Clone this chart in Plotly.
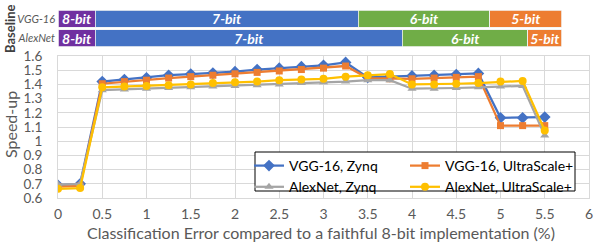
import plotly.graph_objects as go

# ---- data ----
x_err = [0, 0.25, 0.5, 0.75, 1.0, 1.25, 1.5, 1.75, 2.0, 2.25, 2.5, 2.75, 3.0, 3.25,
         3.5, 3.75, 4.0, 4.25, 4.5, 4.75, 5.0, 5.25, 5.5]
vgg_zynq = [0.69, 0.70, 1.42, 1.435, 1.447, 1.465, 1.473, 1.48, 1.49, 1.505, 1.515, 1.525,
            1.535, 1.555, 1.45, 1.455, 1.46, 1.465, 1.47, 1.478, 1.165, 1.165, 1.17]
vgg_us = [0.68, 0.685, 1.405, 1.42, 1.43, 1.445, 1.455, 1.465, 1.475, 1.485, 1.495, 1.505,
          1.515, 1.53, 1.445, 1.44, 1.44, 1.445, 1.45, 1.455, 1.11, 1.11, 1.11]
alex_zynq = [0.695, 0.70, 1.36, 1.365, 1.37, 1.375, 1.38, 1.385, 1.39, 1.395, 1.40, 1.41,
             1.415, 1.42, 1.43, 1.43, 1.37, 1.37, 1.375, 1.38, 1.385, 1.39, 1.04]
alex_us = [0.665, 0.67, 1.38, 1.385, 1.39, 1.395, 1.40, 1.41, 1.415, 1.42, 1.43, 1.435,
           1.44, 1.455, 1.465, 1.473, 1.40, 1.40, 1.405, 1.41, 1.42, 1.425, 1.075]

baseline_nets = ["VGG-16", "AlexNet"]
bit_labels = ["8-bit", "7-bit", "6-bit", "5-bit"]
bit_spans_vgg = [0.42, 2.97, 1.49, 0.81]
bit_spans_alex = [0.42, 3.47, 1.42, 0.38]

FONT = "Lato"
GREY_TXT = "#595959"
GRID = "#D9D9D9"

W, H = 598, 243
ML, MR, MT, MB = 58, 9, 8, 45
PW, PH = W - ML - MR, H - MT - MB

def px_x(p):
    return (p - ML) / PW

def px_y(p):
    return (H - MB - p) / PH

fig = go.Figure()

# ---- baseline bars ----
bit_colors = ["#7030A0", "#4472C4", "#70AD47", "#ED7D31"]
for i, lab in enumerate(bit_labels):
    fig.add_trace(go.Bar(
        x=[bit_spans_vgg[i], bit_spans_alex[i]], y=[0, 1],
        orientation="h", xaxis="x2", yaxis="y2",
        marker=dict(color=bit_colors[i], line=dict(color="#F2F2F2", width=0.8)),
        width=0.86,
        text=[f"<b><i>{lab}</i></b>"] * 2, textposition="inside",
        insidetextanchor="middle", textangle=0, constraintext="none",
        textfont=dict(color="white", size=14, family=FONT),
        showlegend=False, hoverinfo="skip",
    ))

# ---- speed-up lines ----
series = [
    ("VGG-16, Zynq", vgg_zynq, "#4472C4", "diamond", 9, "legend"),
    ("VGG-16, UltraScale+", vgg_us, "#ED7D31", "square", 7, "legend2"),
    ("AlexNet, Zynq", alex_zynq, "#A5A5A5", "triangle-up", 8, "legend"),
    ("AlexNet, UltraScale+", alex_us, "#FFC000", "circle", 8, "legend2"),
]
for name, ys, col, sym, sz, lg in series:
    fig.add_trace(go.Scatter(
        x=x_err, y=ys, name=name, mode="lines+markers",
        line=dict(color=col, width=2.25),
        marker=dict(color=col, symbol=sym, size=sz),
        legend=lg,
    ))

leg_common = dict(
    orientation="v", xanchor="left", yanchor="top",
    bgcolor="rgba(0,0,0,0)", borderwidth=0,
    font=dict(size=14, color="black", family=FONT),
    itemwidth=30, tracegroupgap=0, traceorder="normal",
)

fig.update_layout(
    width=W, height=H,
    margin=dict(l=ML, r=MR, t=MT, b=MB, autoexpand=False),
    plot_bgcolor="white", paper_bgcolor="white",
    font=dict(family=FONT, color=GREY_TXT),
    barmode="stack",
    xaxis=dict(
        domain=[0, 1], range=[0, 6], dtick=0.5, tick0=0,
        showgrid=True, gridcolor=GRID, gridwidth=1,
        showline=True, linecolor=GRID, mirror=True, zeroline=False,
        tickfont=dict(size=14, color=GREY_TXT), ticklabelstandoff=3,
        anchor="y", automargin=False,
    ),
    yaxis=dict(
        domain=[0, 0.747], range=[0.6, 1.6], dtick=0.1, tick0=0.6,
        showgrid=True, gridcolor=GRID, gridwidth=1,
        showline=True, linecolor=GRID, mirror=True, zeroline=False,
        tickfont=dict(size=13.5, color=GREY_TXT), ticklabelstandoff=12,
        anchor="x", automargin=False,
    ),
    xaxis2=dict(domain=[0, 1], range=[0, 6], visible=False, anchor="y2"),
    yaxis2=dict(
        domain=[0.789, 0.995], range=[1.5, -0.5], anchor="x2",
        tickmode="array", tickvals=[0, 1], ticktext=baseline_nets,
        tickfont=dict(size=11, color=GREY_TXT, style="italic"),
        showgrid=False, zeroline=False, showline=False, ticklabelstandoff=2,
        automargin=False,
    ),
    legend=dict(x=px_x(249), y=px_y(150), **leg_common),
    legend2=dict(x=px_x(405), y=px_y(150), **leg_common),
    shapes=[dict(type="rect", xref="paper", yref="paper",
                 x0=px_x(255), x1=px_x(575), y0=px_y(191), y1=px_y(152),
                 fillcolor="white", line=dict(color="black", width=1), layer="above")],
    annotations=[
        dict(text="<b>Baseline</b>", textangle=-90,
             x=px_x(10), y=px_y(29), xref="paper", yref="paper", showarrow=False,
             xanchor="center", yanchor="middle",
             font=dict(size=13, color="#404040", family=FONT)),
        dict(text="Speed-up", textangle=-90,
             x=px_x(10), y=px_y(125), xref="paper", yref="paper", showarrow=False,
             xanchor="center", yanchor="middle", borderpad=0,
             font=dict(size=16, color=GREY_TXT, family=FONT)),
        dict(text="Classification Error compared to a faithful 8-bit implementation (%)",
             x=px_x(321), y=px_y(232), xref="paper", yref="paper", showarrow=False,
             xanchor="center", yanchor="middle", borderpad=0,
             font=dict(size=16, color=GREY_TXT, family=FONT)),
    ],
)

fig.write_html("out.html", config={"displayModeBar": False},
               post_script="document.body.style.margin='0';")
